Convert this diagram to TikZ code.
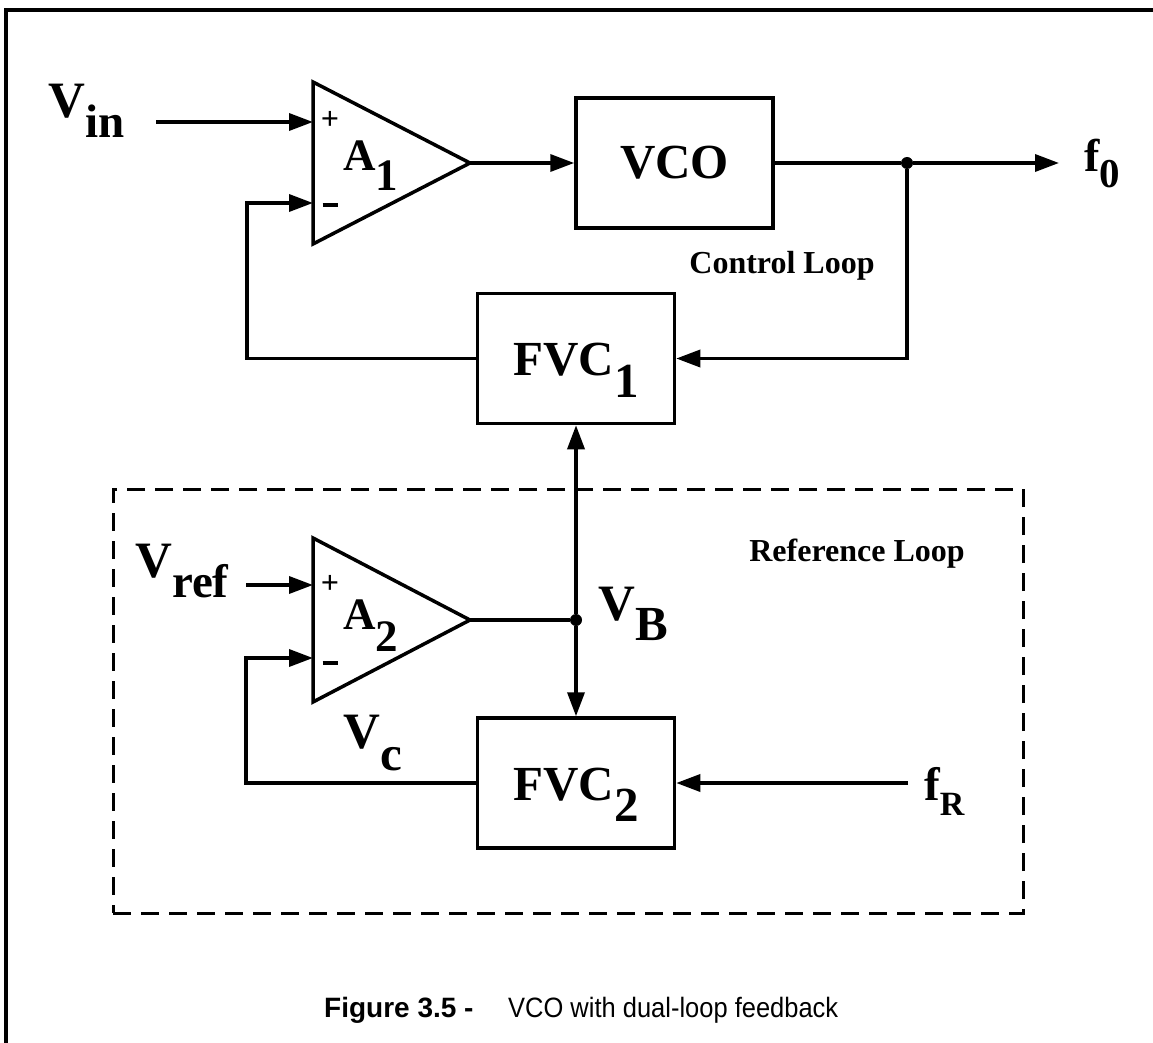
\documentclass[tikz,border=0pt]{standalone}
\usepackage{fontspec}
\setmainfont{Liberation Serif}
\newfontfamily\capfont{Liberation Sans}
\usetikzlibrary{arrows.meta}
\newcommand\fs[1]{\fontsize{#1}{#1}\selectfont}
\begin{document}
\begin{tikzpicture}[x=1pt,y=-1pt,
  wire/.style={line width=3.5pt},
  arr/.style={wire,-{Triangle[length=24pt 0 0,width=17pt 0 0]}},
  blk/.style={draw,line width=3.5pt,minimum width=197pt,minimum height=130pt,font=\bfseries\fs{49},inner sep=0pt},
  fvcblk/.style={blk,text height=40pt,text depth=6pt},
  lbl/.style={font=\bfseries\fs{51},inner sep=0pt,anchor=base west},
  albl/.style={font=\bfseries\fs{45},inner sep=0pt,anchor=base west},
  loopl/.style={font=\bfseries\fs{32},inner sep=0pt,anchor=base},
  sgn/.style={font=\bfseries\fs{32},inner sep=0pt},
  dot/.style={circle,fill,inner sep=0pt,minimum size=12pt},
  amp/.style={line width=3.5pt,line join=miter},
  dashbox/.style={draw,line width=3pt,dash pattern=on 18pt off 10pt,minimum width=910pt,minimum height=424pt,inner sep=0pt},
]
\useasboundingbox (0,0) rectangle (1153,1043);
% frame
\draw[line width=4pt] (6,1043) -- (6,10) -- (1153,10);

% reference loop box
\node[dashbox] (refbox) at (568,701) {};
\node[loopl] (refl) at (857,561) {Reference Loop};
\node[loopl] (ctl) at (782,273) {Control Loop};

% blocks
\node[blk] (vco) at (674.5,163) {VCO};
\node[fvcblk] (fvc1) at (576,358.5) {FVC\raisebox{-22pt}{1}};
\node[fvcblk] (fvc2) at (576,783) {FVC\raisebox{-21pt}{2}};

% amplifier A1
\coordinate (a1p) at (313,122);
\coordinate (a1m) at (313,203);
\coordinate (a1o) at (470,163);
\draw[amp] (313,82) -- (a1o) -- (313,244) -- cycle;
\node[albl] (a1lbl) at (343,171) {A\raisebox{-20pt}{1}};
\node[sgn] (a1plus) at (330,120) {+};
\node[sgn] (a1minus) at (330,205) {\rule{15pt}{3.5pt}};

% amplifier A2
\coordinate (a2p) at (313,585);
\coordinate (a2m) at (313,658);
\coordinate (a2o) at (470,620);
\draw[amp] (313,538) -- (a2o) -- (313,702) -- cycle;
\node[albl] (a2lbl) at (343,629) {A\raisebox{-22pt}{2}};
\node[sgn] (a2plus) at (330,584) {+};
\node[sgn] (a2minus) at (330,663) {\rule{15pt}{3.5pt}};

% labels
\node[lbl] (vin) at (48,118) {V\raisebox{-20pt}{\fs{47}in}};
\node[lbl] (vref) at (135,577) {V\raisebox{-20pt}{\fs{47}ref}};
\node[lbl] (vb) at (598,620) {V\raisebox{-20pt}{\fs{49}B}};
\node[lbl] (vc) at (343,748) {V\raisebox{-22pt}{\fs{49}c}};
\node[font=\bfseries\fs{46},inner sep=0pt,anchor=base west] (f0) at (1084,172) {f\raisebox{-15pt}{\fs{41}0}};
\node[font=\bfseries\fs{47},inner sep=0pt,anchor=base west] (fr) at (924,800) {f\raisebox{-15pt}{\fs{34}R}};

% free ends
\coordinate (vins) at (156,122);
\coordinate (f0s) at (1059,163);
\coordinate (vrefs) at (246,585);
\coordinate (frs) at (908,783);

% junctions
\node[dot] (j1) at (907,163) {};
\node[dot] (j2) at (576,620) {};

% control loop wiring
\draw[arr] (vins) -- (a1p);
\draw[arr] (a1o) -- (vco.west);
\draw[wire] (vco.east) -- (j1);
\draw[arr] (j1) -- (f0s);
\draw[arr] (j1) |- (fvc1.east);
\draw[arr] (fvc1.west) -| ([xshift=-66pt]a1m) -- (a1m);

% reference loop wiring
\draw[arr] (vrefs) -- (a2p);
\draw[wire] (a2o) -- (j2);
\draw[arr] (j2) -- (fvc1.south);
\draw[arr] (j2) -- (fvc2.north);
\draw[arr] (fvc2.west) -| ([xshift=-67pt]a2m) -- (a2m);
\draw[arr] (frs) -- (fvc2.east);

% caption
\node[font=\capfont\fs{28},inner sep=0pt,anchor=base west] (cap1) at (324,1017) {\bfseries Figure 3.5 -};
\node[font=\capfont\fs{28},inner sep=0pt,anchor=base west] (cap2) at (508,1017) {\scalebox{0.91}[1]{VCO with dual-loop feedback}};
\end{tikzpicture}
\end{document}
